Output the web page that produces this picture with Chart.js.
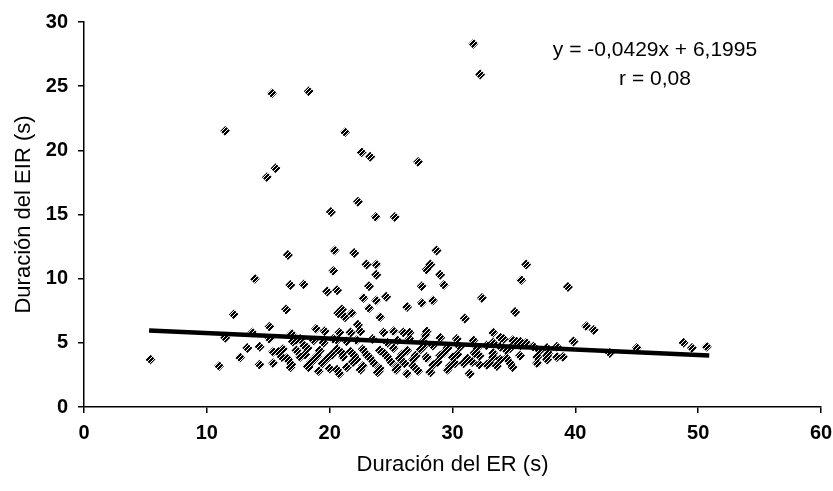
<!DOCTYPE html>
<html>
<head>
<meta charset="utf-8">
<script src="https://cdn.jsdelivr.net/npm/chart.js@4.4.1/dist/chart.umd.min.js"></script>
<style>
  html, body { margin: 0; padding: 0; background: #fff; }
  #wrap { width: 833px; height: 491px; position: relative; }
</style>
</head>
<body>
<div id="wrap"><canvas id="c" width="833" height="491"></canvas></div>
<script>
// ---- data ----
const xTitle = 'Duración del ER (s)';
const yTitle = 'Duración del EIR (s)';
const equationText = 'y = -0,0429x + 6,1995';
const rText = 'r = 0,08';
const xTicks = [0, 10, 20, 30, 40, 50, 60];
const yTicks = [0, 5, 10, 15, 20, 25, 30];

// Duración del ER (s)
const erValues = [
  31.7, 32.25, 15.3, 18.3, 11.5, 21.25, 22.6, 23.3, 27.2, 15.6, 14.9, 22.3, 20.1, 23.75, 25.3,
  16.6, 20.4, 22.0, 28.7, 23.0, 23.8, 23.8, 20.3, 28.2, 29.0, 29.3, 36.0, 35.6, 13.9, 16.8,
  17.9, 20.6, 19.8, 23.2, 27.5, 27.9, 39.4, 22.75, 23.8, 24.6, 28.4, 27.5, 32.4, 16.45, 20.7,
  23.2, 24.1, 26.3, 21.0, 21.8, 21.25, 35.1, 12.2, 31.0, 22.3, 15.1, 40.9, 41.5,
  5.4, 11.0, 11.5, 13.7, 16.9, 18.9, 19.6, 20.8, 21.7, 22.5, 24.4, 25.2, 26.0, 26.5, 27.9,
  27.8, 29.0, 30.35, 31.7, 33.3, 34.15, 35.2, 36.0, 33.3, 33.9, 34.9, 35.5, 36.6, 37.1, 37.8,
  39.85, 42.8, 45.0, 48.8, 49.5, 50.7, 39.0,
  15.1, 13.3, 12.7, 14.3, 14.3, 15.4, 15.4, 15.8, 16.1, 16.6, 16.9, 17.3, 17.9, 18.3, 20.6, 20.6,
  17.0, 17.6, 18.7, 19.5, 20.3, 21.4, 22.2, 23.5, 24.7, 25.5, 26.5, 27.6,
  16.2, 17.3, 18.2, 19.2, 20.6, 21.7, 22.7, 24.1, 25.2, 26.3, 27.4,
  16.5, 17.6, 18.7, 19.8, 21.1, 22.2, 23.3, 24.7, 25.7, 26.8, 27.9,
  16.8, 18.2, 20.0, 21.4, 22.7, 24.1, 25.5, 26.8,
  20.8, 23.9, 26.3,
  27.6, 28.4, 29.6, 30.6, 32.0, 32.8, 33.9, 34.7, 35.5, 36.6, 37.7, 38.5,
  27.9, 29.0, 30.0, 31.2, 32.2, 33.3, 34.4, 35.5, 36.9, 37.7,
  28.4, 29.8, 30.9, 32.2, 33.6, 34.7,
  28.2, 31.4,
  33.9, 34.9, 33.3, 32.8, 34.4, 36.9, 37.7, 38.5,
  18.0, 19.0, 20.2, 21.0, 22.0, 23.0, 24.4, 25.9, 27.0, 29.3, 30.4, 31.8,
  18.5, 19.4, 21.9, 23.6, 25.0, 26.1, 28.8, 30.2, 31.6, 33.0,
  19.1, 22.5, 24.0, 25.4, 27.2, 29.6
];
// Duración del EIR (s)
const eirValues = [
  28.3, 25.9, 24.45, 24.6, 21.5, 21.4, 19.85, 19.5, 19.1, 18.6, 17.9, 16.0, 15.2, 14.8, 14.8,
  11.85, 12.2, 12.0, 12.2, 11.1, 11.1, 10.3, 10.6, 11.1, 10.3, 9.5, 11.1, 9.9, 10.0, 9.5,
  9.55, 9.1, 9.0, 9.4, 9.4, 10.7, 9.35, 8.5, 8.3, 8.6, 8.3, 8.1, 8.5, 7.6, 7.3,
  7.7, 7.0, 7.8, 7.6, 7.3, 7.0, 7.4, 7.2, 6.9, 6.4, 6.26, 6.3, 6.0,
  3.7, 3.2, 5.4, 5.8, 5.7, 6.1, 5.9, 5.8, 5.8, 5.9, 5.8, 5.9, 5.8, 5.8, 5.9,
  5.6, 5.4, 5.3, 5.2, 5.0, 5.3, 5.1, 5.0, 5.8, 5.4, 5.2, 5.1, 4.7, 4.4, 4.2,
  5.1, 4.2, 4.6, 5.0, 4.6, 4.7, 3.9,
  5.3, 4.6, 3.85, 4.7, 3.3, 4.3, 3.4, 4.3, 3.9, 3.7, 3.3, 5.2, 4.8, 3.1, 5.2, 2.9,
  5.1, 5.3, 5.2, 5.0, 5.3, 5.1, 5.2, 5.3, 5.0, 5.2, 5.3, 5.1,
  4.5, 4.4, 4.6, 4.4, 4.5, 4.3, 4.5, 4.4, 4.6, 4.4, 4.5,
  3.8, 3.9, 3.7, 3.8, 3.9, 3.7, 3.8, 3.9, 3.8, 3.7, 3.8,
  3.1, 3.2, 3.0, 3.1, 3.2, 3.0, 3.1, 3.2,
  2.6, 2.7, 2.6,
  4.7, 4.8, 4.6, 4.7, 4.6, 4.8, 4.7, 4.6, 4.8, 4.7, 4.6, 4.7,
  3.9, 4.0, 3.9, 3.8, 4.0, 3.9, 3.8, 4.0, 3.9, 4.0,
  3.3, 3.2, 3.4, 3.3, 3.2, 3.4,
  2.7, 2.6,
  3.7, 3.1, 4.2, 3.3, 4.4, 3.4, 3.7, 3.9,
  4.1, 4.0, 4.1, 4.2, 4.0, 4.1, 4.2, 4.1, 4.0, 4.2, 4.1, 4.2,
  3.5, 3.4, 3.5, 3.4, 3.5, 3.4, 3.5, 3.4, 3.5, 3.4,
  2.8, 2.9, 2.8, 2.9, 2.8, 2.9
];
// Trend line end points
const trendX = [5.3, 50.9];
const trendY = [5.97, 4.02];

// ---- styling ----
function makePattern() {
  const p = document.createElement('canvas');
  p.width = 4; p.height = 4;
  const g = p.getContext('2d');
  for (let y = 0; y < 4; y++) for (let x = 0; x < 4; x++) {
    if ((x + y) % 4 !== 0) { g.fillStyle = '#000'; g.fillRect(x, y, 1, 1); }
  }
  return g.createPattern(p, 'repeat');
}
const ctx = document.getElementById('c').getContext('2d');
const markerFill = makePattern();

const scatterData = erValues.map((x, i) => ({ x: x, y: eirValues[i] }));
const trendData = trendX.map((x, i) => ({ x: x, y: trendY[i] }));

const FONT = "'Liberation Sans', Arial, sans-serif";

const annotationPlugin = {
  id: 'eqText',
  afterDraw(chart) {
    const c = chart.ctx;
    c.save();
    c.fillStyle = '#000';
    c.font = "21px " + FONT;
    c.textAlign = 'center';
    c.textBaseline = 'middle';
    c.fillText(equationText, 655, 50);
    c.fillText(rText, 655, 79);
    c.restore();
  }
};

new Chart(ctx, {
  type: 'scatter',
  data: {
    datasets: [
      {
        type: 'line',
        data: trendData,
        borderColor: '#000',
        borderWidth: 4.5,
        pointRadius: 0,
        fill: false,
        order: 0
      },
      {
        data: scatterData,
        pointStyle: 'rectRot',
        pointRadius: 5,
        pointHoverRadius: 5,
        backgroundColor: markerFill,
        borderWidth: 0,
        order: 1
      }
    ]
  },
  options: {
    responsive: false,
    animation: false,
    events: [],
    layout: { padding: { left: 0, right: 12, top: 22, bottom: 0 } },
    plugins: { legend: { display: false }, tooltip: { enabled: false } },
    scales: {
      x: {
        type: 'linear',
        min: 0, max: 60,
        afterBuildTicks(scale) { scale.ticks = xTicks.map(v => ({ value: v })); },
        afterFit(scale) { scale.height = 84; scale.paddingRight = 0; scale.paddingLeft = 0; },
        ticks: { color: '#000', font: { family: FONT, size: 20, weight: 'bold' }, padding: 8, maxRotation: 0 },
        grid: { drawOnChartArea: false, drawTicks: true, tickLength: 6, color: '#000', lineWidth: 1.5 },
        border: { display: true, color: '#000', width: 1.5 },
        title: { display: true, text: xTitle, color: '#000', font: { family: FONT, size: 22 }, padding: { top: 0, bottom: 13 } }
      },
      y: {
        type: 'linear',
        min: 0, max: 30,
        afterBuildTicks(scale) { scale.ticks = yTicks.map(v => ({ value: v })); },
        afterFit(scale) { scale.width = 84; scale.paddingTop = 0; scale.paddingBottom = 0; },
        ticks: { color: '#000', font: { family: FONT, size: 20, weight: 'bold' }, padding: 10 },
        grid: { drawOnChartArea: false, drawTicks: true, tickLength: 6, color: '#000', lineWidth: 1.5 },
        border: { display: true, color: '#000', width: 1.5 },
        title: { display: true, text: yTitle, color: '#000', font: { family: FONT, size: 22 }, padding: { top: 11, bottom: 0 } }
      }
    }
  },
  plugins: [annotationPlugin]
});
</script>
</body>
</html>
